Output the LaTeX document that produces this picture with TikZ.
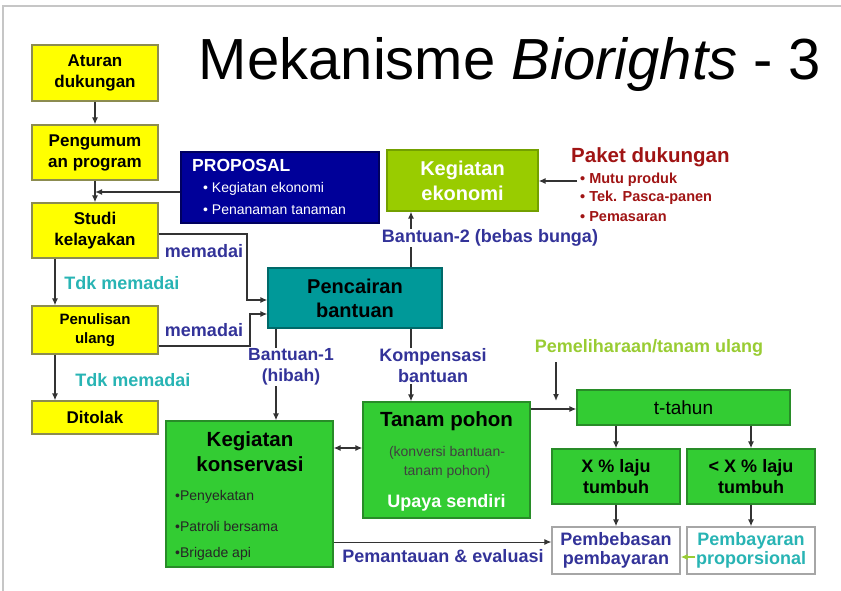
\documentclass[tikz,border=0pt]{standalone}
\usepackage{fontspec}
\setmainfont{Liberation Sans}
\usetikzlibrary{arrows.meta}

\definecolor{kuning}{RGB}{255,255,0}
\definecolor{kuningtepi}{RGB}{140,140,80}
\definecolor{tosca}{RGB}{0,153,153}
\definecolor{toscatepi}{RGB}{0,105,105}
\definecolor{navy}{RGB}{0,0,153}
\definecolor{navytepi}{RGB}{0,0,95}
\definecolor{limau}{RGB}{153,204,0}
\definecolor{limautepi}{RGB}{115,160,0}
\definecolor{hijau}{RGB}{51,204,51}
\definecolor{hijautepi}{RGB}{40,140,40}
\definecolor{biru}{RGB}{51,51,153}
\definecolor{sian}{RGB}{40,180,180}
\definecolor{merah}{RGB}{160,20,20}
\definecolor{pelihara}{RGB}{153,204,51}

\newcommand{\fsz}[2]{\fontsize{#1}{#2}\selectfont}

\begin{document}
\begin{tikzpicture}[x=1pt,y=-1pt,
  >={Latex[length=7pt,width=6pt]},
  ybox/.style={draw=kuningtepi, line width=1.2pt, fill=kuning, inner sep=0pt,
    minimum width=126pt, align=center, font=\fsz{17}{21}\bfseries},
  gbox/.style={draw=hijautepi, line width=1.2pt, fill=hijau, inner sep=0pt, align=center},
  wbox/.style={draw=gray!70, line width=1.2pt, fill=white, inner sep=0pt,
    minimum width=128pt, minimum height=47pt, align=center, font=\fsz{18}{19}\bfseries},
  conn/.style={line width=1.5pt, draw=black!80},
  lbl/.style={font=\fsz{18}{21}\bfseries, text=biru, align=center, inner sep=1pt}
]
\useasboundingbox (0,0) rectangle (841,591);
\draw[gray!45, line width=1.5pt] (3,591) -- (3,6) -- (841,6);
%
\node[font=\fsz{58}{62}, anchor=base] (judul) at (510,80) {Mekanisme \textit{Biorights} - 3};
%
\node[ybox, minimum height=56pt] (aturan) at (95,73) {Aturan\\dukungan};
\node[ybox, minimum height=55pt] (umum) at (95,152.5) {Pengumum\\an program};
\node[ybox, minimum height=55pt] (studi) at (95,230.5) {Studi\\kelayakan};
\node[ybox, minimum height=48pt, font=\fsz{15}{19}\bfseries] (tulis) at (95,330) {Penulisan\\ulang};
\node[ybox, minimum height=33pt] (tolak) at (95,417.5) {Ditolak};
%
\node[draw=navytepi, line width=1.2pt, fill=navy, minimum width=198pt, minimum height=71pt] (proposal) at (280,187.5) {};
\node[anchor=west, text=white, font=\fsz{17.5}{20}\bfseries, inner sep=0pt] (proptitel) at (192,165) {PROPOSAL};
\node[anchor=west, text=white, font=\fsz{14}{17}, inner sep=0pt] (prop1) at (203,189) {\textbullet\ Kegiatan ekonomi};
\node[anchor=west, text=white, font=\fsz{14}{17}, inner sep=0pt] (prop2) at (203,210) {\textbullet\ Penanaman tanaman};
%
\node[draw=limautepi, line width=1.2pt, fill=limau, minimum width=151pt, minimum height=61pt, inner sep=0pt,
  text=white, align=center, font=\fsz{20}{25}\bfseries] (ekonomi) at (462.5,180.5) {Kegiatan\\ekonomi};
\node[anchor=west, text=merah, font=\fsz{20.5}{24}\bfseries, inner sep=0pt] (paket) at (571,157) {Paket dukungan};
\node[anchor=west, text=merah, font=\fsz{14.5}{18.5}\bfseries, inner sep=0pt, align=left] (paket1) at (580,180) {\textbullet\ Mutu produk};
\node[anchor=west, text=merah, font=\fsz{14.5}{18.5}\bfseries, inner sep=0pt, align=left] (paket2) at (580,198) {\textbullet\ Tek. Pasca-panen};
\node[anchor=west, text=merah, font=\fsz{14.5}{18.5}\bfseries, inner sep=0pt, align=left] (paket3) at (580,217) {\textbullet\ Pemasaran};
%
\node[draw=toscatepi, line width=1.2pt, fill=tosca, minimum width=174pt, minimum height=60pt, inner sep=0pt,
  align=center, font=\fsz{20}{24}\bfseries] (cair) at (355,298) {Pencairan\\bantuan};
%
\node[gbox, minimum width=167pt, minimum height=146pt] (konservasi) at (249.5,494) {};
\node[font=\fsz{20.5}{25}\bfseries, align=center] (konstitel) at (250,452) {Kegiatan\\konservasi};
\node[anchor=west, font=\fsz{14}{17}, text=black!85, inner sep=0pt] (kons1) at (175,497) {\textbullet Penyekatan};
\node[anchor=west, font=\fsz{14}{17}, text=black!85, inner sep=0pt] (kons2) at (175,526) {\textbullet Patroli bersama};
\node[anchor=west, font=\fsz{14}{17}, text=black!85, inner sep=0pt] (kons3) at (175,554) {\textbullet Brigade api};
%
\node[gbox, minimum width=167pt, minimum height=116pt] (tanam) at (446.5,460) {};
\node[font=\fsz{20.5}{24}\bfseries] (tanamtitel) at (446.5,421) {Tanam pohon};
\node[font=\fsz{14}{19}, text=black!75, align=center] (tanamket) at (447,462) {(konversi bantuan-\\tanam pohon)};
\node[font=\fsz{18}{21}\bfseries, text=white] (upaya) at (446.5,503) {Upaya sendiri};
%
\node[gbox, minimum width=213pt, minimum height=35pt, font=\fsz{19}{22}] (tahun) at (683.5,407.5) {t-tahun};
\node[gbox, minimum width=128pt, minimum height=55pt, font=\fsz{18}{21}\bfseries] (laju) at (616,476.5) {X \% laju\\tumbuh};
\node[gbox, minimum width=128pt, minimum height=55pt, font=\fsz{18}{21}\bfseries] (kurang) at (751,476.5) {< X \% laju\\tumbuh};
\node[wbox, text=biru] (bebas) at (616,550.5) {Pembebasan\\pembayaran};
\node[wbox, text=sian] (bayar) at (751,550.5) {Pembayaran\\proporsional};
%
\coordinate (propin) at (95,192);
\coordinate (paketin) at (577,181);
\coordinate (m1) at (247,300);
\coordinate (m2) at (250,314);
\coordinate (pel) at (556,362);
\coordinate (pelend) at (556,401);
%
\draw[conn,->] (aturan) -- (umum);
\draw[conn,->] (umum) -- (studi);
\draw[conn,->] (proposal.west |- propin) -- (propin);
\draw[conn,->] ([xshift=-40pt]studi.south) -- ([xshift=-40pt]tulis.north);
\draw[conn,->] ([xshift=-40pt]tulis.south) -- ([xshift=-40pt]tolak.north);
\draw[conn,->] ([yshift=-3.5pt]studi.east) -| (m1) -- (m1 -| cair.west);
\draw[conn,->] ([yshift=-16pt]tulis.east) -| (m2) -- (m2 -| cair.west);
\draw[conn,->] (paketin) -- (paketin -| ekonomi.east);
\draw[conn,->] ([xshift=56pt]cair.north) -- ([xshift=56pt]cair.north |- ekonomi.south);
\draw[conn,->] ([xshift=-79pt]cair.south) -- ([xshift=-79pt]cair.south |- konservasi.north);
\draw[conn,->] ([xshift=56pt]cair.south) -- ([xshift=56pt]cair.south |- tanam.north);
\draw[conn,<->] ([yshift=46pt]konservasi.east) -- ([yshift=46pt]konservasi.east -| tanam.west);
\draw[line width=1pt, black!80, ->] ([yshift=-48pt]konservasi.east) -- ([yshift=-48pt]konservasi.east -| bebas.west);
\draw[conn,->] ([yshift=51pt]tanam.east) -- ([yshift=51pt]tanam.east -| tahun.west);
\draw[conn,->] (pel) -- (pelend);
\draw[conn,->] (tahun.south -| laju.north) -- (laju.north);
\draw[conn,->] (tahun.south -| kurang.north) -- (kurang.north);
\draw[conn,->] (laju) -- (bebas);
\draw[conn,->] (kurang) -- (bayar);
\draw[line width=2.5pt, pelihara, ->] ([shift={(9pt,-6.5pt)}]bayar.west) -- ([yshift=-6.5pt]bebas.east);
%
\node[lbl, text=sian] (tdk1) at (122,283) {Tdk memadai};
\node[lbl, text=sian] (tdk2) at (133,380) {Tdk memadai};
\node[lbl] (cukup1) at (204,251) {memadai};
\node[lbl] (cukup2) at (204,330) {memadai};
\node[lbl, fill=white] (bantu2) at (490,238) {Bantuan-2 (bebas bunga)};
\node[lbl, fill=white, font=\fsz{17.5}{21}\bfseries] (bantu1) at (291,367) {Bantuan-1\\(hibah)};
\node[lbl, fill=white] (kompen) at (433,366) {Kompensasi\\bantuan};
\node[lbl] (pantau) at (443,556) {Pemantauan \& evaluasi};
\node[lbl, text=pelihara] (pelabel) at (649,348) {Pemeliharaan/tanam ulang};
\end{tikzpicture}
\end{document}
